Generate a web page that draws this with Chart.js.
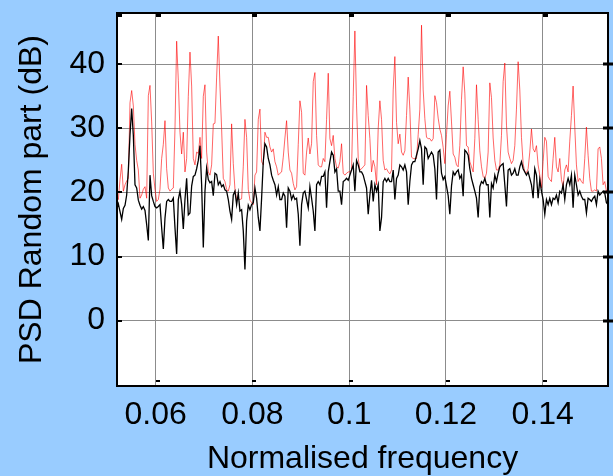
<!DOCTYPE html>
<html>
<head>
<meta charset="utf-8">
<title>PSD random part</title>
<script src="https://cdn.jsdelivr.net/npm/chart.js@4"></script>
<style>
body{margin:0;background:#99ccff;}
canvas{display:block;}
</style>
</head>
<body>
<canvas id="chart" width="613" height="476"></canvas>
<script>
// ================= DATA =================
// frequency bins (normalised): first bin and bin width
const binStart = 0.05159;
const binWidth = 0.00034435;

// PSD of the whole signal (red), dB
const psdFull = [
  19.0,19.4,18.9,22.0,24.4,20.2,21.2,21.8,22.2,34.0,35.9,33.5,27.5,25.0,23.5,19.1,19.6,20.5,20.9,19.1,35.1,36.7,31.0,23.0,20.5,18.6,18.9,20.5,25.3,27.5,31.2,23.7,20.7,20.2,20.5,20.7,30.0,43.6,37.5,29.4,26.0,29.4,
  23.2,25.3,35.0,41.9,36.6,25.3,24.3,26.3,26.1,28.6,25.3,35.0,36.8,26.3,23.2,22.7,24.3,30.7,30.8,38.0,44.4,36.6,29.9,22.2,21.7,20.5,20.2,21.2,30.7,24.5,20.5,19.0,18.9,18.9,19.0,24.0,31.4,28.6,20.5,18.8,18.4,18.1,
  22.7,23.2,31.4,33.0,24.8,24.3,29.4,28.6,28.6,27.1,26.3,26.8,24.8,24.0,22.7,23.0,23.2,25.5,28.5,31.2,26.3,23.5,23.0,21.4,20.4,20.9,27.5,34.3,32.5,23.0,22.7,26.3,28.5,26.0,27.6,37.3,38.7,28.9,24.3,24.0,24.0,25.3,
  24.8,31.4,38.6,28.4,27.3,28.9,25.3,24.0,23.8,24.8,27.6,23.0,22.7,23.0,23.2,23.2,23.5,35.0,45.2,33.5,25.3,23.5,23.7,24.0,24.3,36.7,32.0,28.4,23.2,25.0,24.0,21.2,30.0,34.3,31.4,25.0,23.5,23.7,23.2,22.9,23.5,36.0,
  41.2,30.9,27.6,29.1,26.3,25.8,26.5,32.0,38.0,33.0,25.5,25.3,25.3,25.3,29.0,33.0,46.1,36.0,31.5,28.6,28.4,28.4,28.0,28.4,35.1,34.0,31.6,29.9,28.9,27.0,24.5,29.0,33.5,35.8,31.0,26.0,25.5,24.3,24.0,27.3,34.5,39.6,
  35.5,27.3,27.1,24.8,24.0,23.2,28.4,36.8,31.4,26.5,24.0,22.5,22.2,23.0,26.3,37.1,34.8,28.5,25.0,23.5,23.5,24.3,28.9,37.3,40.2,30.5,26.3,25.3,24.5,25.0,27.3,33.0,40.4,36.0,28.6,24.5,23.2,23.1,23.7,26.3,29.9,26.8,
  26.3,27.3,24.3,22.7,20.7,24.8,28.6,28.0,22.5,22.0,21.7,25.3,28.6,24.0,23.2,25.3,22.0,20.9,23.5,24.3,23.2,28.0,32.0,36.6,30.2,24.3,21.7,22.2,21.7,21.4,25.3,30.2,25.8,22.2,20.2,20.2,20.4,20.2,26.8,27.1,25.3,21.2,21.7,20.2,20.5
];

// PSD of the random part (black), dB
const psdRandom = [
  17.5,17.3,18.2,17.0,15.8,17.5,18.0,19.6,23.5,29.0,33.1,28.9,21.2,20.7,18.8,18.0,17.4,17.8,17.2,15.0,12.5,22.7,19.5,18.6,17.8,17.6,17.8,18.1,14.5,11.2,16.0,18.6,18.9,18.6,18.6,19.1,14.5,10.4,18.9,20.2,18.1,14.3,
  18.9,22.2,16.5,16.8,21.0,22.5,22.7,23.7,25.0,27.3,21.2,11.4,20.2,23.8,22.0,21.5,21.7,19.5,23.0,22.8,21.2,21.7,20.9,21.2,20.4,20.2,18.9,17.1,15.8,19.6,20.2,18.1,19.9,17.1,17.3,14.0,8.0,15.5,18.0,17.3,18.1,18.4,
  20.7,19.1,16.1,14.0,19.1,24.8,27.6,27.1,25.3,24.3,22.7,21.9,21.2,19.6,20.9,18.9,18.9,19.9,19.4,14.5,20.7,20.2,18.9,19.6,18.9,19.1,16.6,11.7,18.1,19.9,20.2,18.9,17.6,20.9,19.1,17.1,14.0,21.2,21.7,21.2,22.5,22.5,
  23.2,17.6,23.2,24.8,26.3,25.8,23.2,23.7,20.2,20.2,18.1,21.7,21.9,22.2,21.9,22.7,23.5,24.3,20.2,25.0,24.3,23.2,23.2,22.7,21.7,20.7,16.6,19.6,21.9,18.6,21.2,20.2,21.2,14.0,16.1,21.7,22.2,21.7,22.2,21.7,21.7,23.5,
  18.9,22.2,22.7,24.3,24.0,23.5,24.3,23.2,18.1,21.7,24.3,24.8,24.8,25.8,26.8,28.1,26.8,21.2,27.1,26.8,25.3,25.8,26.3,25.8,23.7,18.9,26.3,26.6,23.0,22.0,22.5,21.0,19.5,16.6,21.0,23.2,22.7,23.2,23.5,22.2,22.7,19.4,
  26.6,26.3,25.8,23.7,22.2,21.2,20.2,19.1,16.1,20.9,21.7,21.4,22.2,21.2,21.2,16.1,21.4,20.7,22.7,21.7,23.0,24.0,24.3,24.5,21.2,17.8,23.5,23.7,22.7,23.0,23.7,22.7,22.7,24.0,24.8,23.7,23.2,22.7,23.2,22.2,21.2,19.1,
  23.7,22.7,19.1,22.0,20.2,18.9,16.6,18.9,18.1,19.1,18.1,19.1,18.9,19.6,18.4,20.2,19.9,21.2,18.9,21.2,22.2,21.2,22.7,17.6,22.7,21.2,19.6,20.2,19.4,18.9,18.9,16.8,19.1,18.9,18.6,19.1,19.4,18.1,20.2,19.6,19.9,20.2,19.9,18.4,18.1
];

const xTicks = [0.06, 0.08, 0.1, 0.12, 0.14];
const yTicks = [0, 10, 20, 30, 40];

const freq = psdFull.map((_, i) => binStart + i * binWidth);
const pts = arr => arr.map((v, i) => ({x: freq[i], y: v}));

// ================= FRAME =================
// blue page, white plot area, black box with small inner ticks
const frame = {
  id: 'frame',
  beforeDraw(c) {
    const {ctx, chartArea: a} = c;
    ctx.save();
    ctx.fillStyle = '#99ccff';
    ctx.fillRect(0, 0, c.width, c.height);
    ctx.fillStyle = '#fff';
    ctx.fillRect(a.left, a.top, a.right - a.left, a.bottom - a.top);
    ctx.restore();
  },
  afterDraw(c) {
    const {ctx, chartArea: a, scales: {x, y}} = c;
    ctx.save();
    ctx.fillStyle = '#000';
    ctx.fillRect(a.left, a.top, 5, 4);
    xTicks.forEach(v => {
      const px = Math.round(x.getPixelForValue(v));
      ctx.fillRect(px, a.top, 5, 4);
      ctx.fillRect(px, a.bottom - 6, 4, 2);
    });
    yTicks.forEach(v => {
      const py = Math.round(y.getPixelForValue(v));
      ctx.fillRect(a.left, py - 1, 5, 2);
      ctx.fillRect(a.right - 5, py - 1.5, 12, 3);
    });
    ctx.strokeStyle = '#000';
    ctx.lineWidth = 2;
    ctx.strokeRect(a.left, a.top, a.right - a.left, a.bottom - a.top);
    ctx.restore();
  }
};

// fixed axis sizes, no extra room for edge labels
const fitX = s => { s.height = 90; s.paddingLeft = 0; s.paddingRight = 0; };
const fitY = s => { s.width = 117; s.paddingTop = 0; s.paddingBottom = 0; };

// ================= CHART =================
const font = {family: 'Liberation Sans, Arial', size: 32};

new Chart(document.getElementById('chart'), {
  type: 'line',
  data: {
    datasets: [
      {data: pts(psdRandom), borderColor: '#000', borderWidth: 1.3},
      {data: pts(psdFull), borderColor: 'rgba(255,0,0,0.6)', borderWidth: 1}
    ]
  },
  options: {
    responsive: false,
    animation: false,
    elements: {point: {radius: 0}, line: {tension: 0}},
    layout: {padding: {top: 13, right: 5, left: 0, bottom: 0}},
    plugins: {legend: {display: false}, tooltip: {enabled: false}},
    scales: {
      x: {
        type: 'linear', min: 0.052, max: 0.1535,
        afterBuildTicks: s => { s.ticks = xTicks.map(v => ({value: v})); },
        afterFit: fitX,
        grid: {color: '#8c8c8c', drawTicks: false},
        border: {display: false},
        ticks: {padding: 10, color: '#000', font, maxRotation: 0, autoSkip: false, callback: v => String(v)},
        title: {display: true, text: 'Normalised frequency', color: '#000', font, padding: {top: 0, bottom: -2}}
      },
      y: {
        min: -10.2, max: 48,
        afterBuildTicks: s => { s.ticks = yTicks.map(v => ({value: v})); },
        afterFit: fitY,
        grid: {color: '#8c8c8c', drawTicks: false},
        border: {display: false},
        ticks: {padding: 12, color: '#000', font, autoSkip: false, callback: v => String(v)},
        title: {display: true, text: 'PSD Random part (dB)', color: '#000', font, padding: {top: 13, bottom: 0}}
      }
    }
  },
  plugins: [frame]
});
</script>
</body>
</html>
